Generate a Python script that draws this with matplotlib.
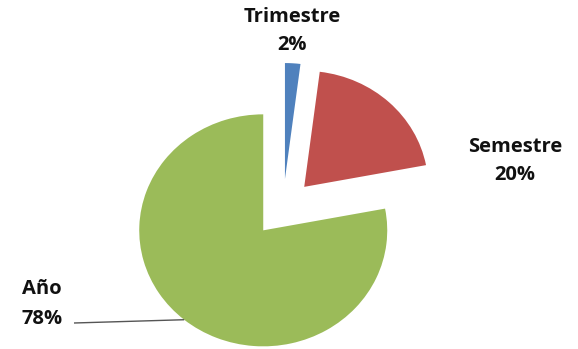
import matplotlib.pyplot as plt
import numpy as np

categories = ["Trimestre", "Semestre", "Año"]
values = [2, 20, 78]
pct_labels = ["2%", "20%", "78%"]
colors = ["#4F81BD", "#C0504D", "#9BBB59"]
explode = [0.25, 0.25, 0.25]

W, H = 578, 349
fig = plt.figure(figsize=(W / 100, H / 100), dpi=100)
ax = fig.add_axes([0, 0, 1, 1])
wedges, _ = ax.pie(values, colors=colors, explode=explode, startangle=90,
                   counterclock=False, radius=1.0,
                   wedgeprops=dict(linewidth=0))
cx, cy, rx, ry = 283, 208, 124, 116
ax.set_aspect('auto')
ax.set_xlim(-cx / rx, (W - cx) / rx)
ax.set_ylim(-(H - cy) / ry, cy / ry)
ax.axis('off')

def px2data(px, py):
    return (px - cx) / rx, (cy - py) / ry

font = dict(family=['Open Sans', 'DejaVu Sans'], fontweight='bold', fontsize=14.5, color='#111111')
ls = 1.6

# Trimestre
x, y = px2data(292, 31)
ax.text(x, y, f"{categories[0]}\n{pct_labels[0]}", ha='center', va='center', linespacing=ls, **font)
# Semestre
x, y = px2data(515, 161)
ax.text(x, y, f"{categories[1]}\n{pct_labels[1]}", ha='center', va='center', linespacing=ls, **font)
# Año
x, y = px2data(22, 304)
ax.text(x, y, f"{categories[2]}\n{pct_labels[2]}", ha='left', va='center', linespacing=ls, **font)

# leader line for Año
w = wedges[2]
ang = np.deg2rad((w.theta1 + w.theta2) / 2)
ex = w.center[0] + w.r * np.cos(ang)
ey = w.center[1] + w.r * np.sin(ang)
sx, sy = px2data(74, 323)
ax.plot([sx, ex], [sy, ey], color='#555555', lw=1.0, solid_capstyle='butt')

fig.savefig("out.png", dpi=100, facecolor='white')
